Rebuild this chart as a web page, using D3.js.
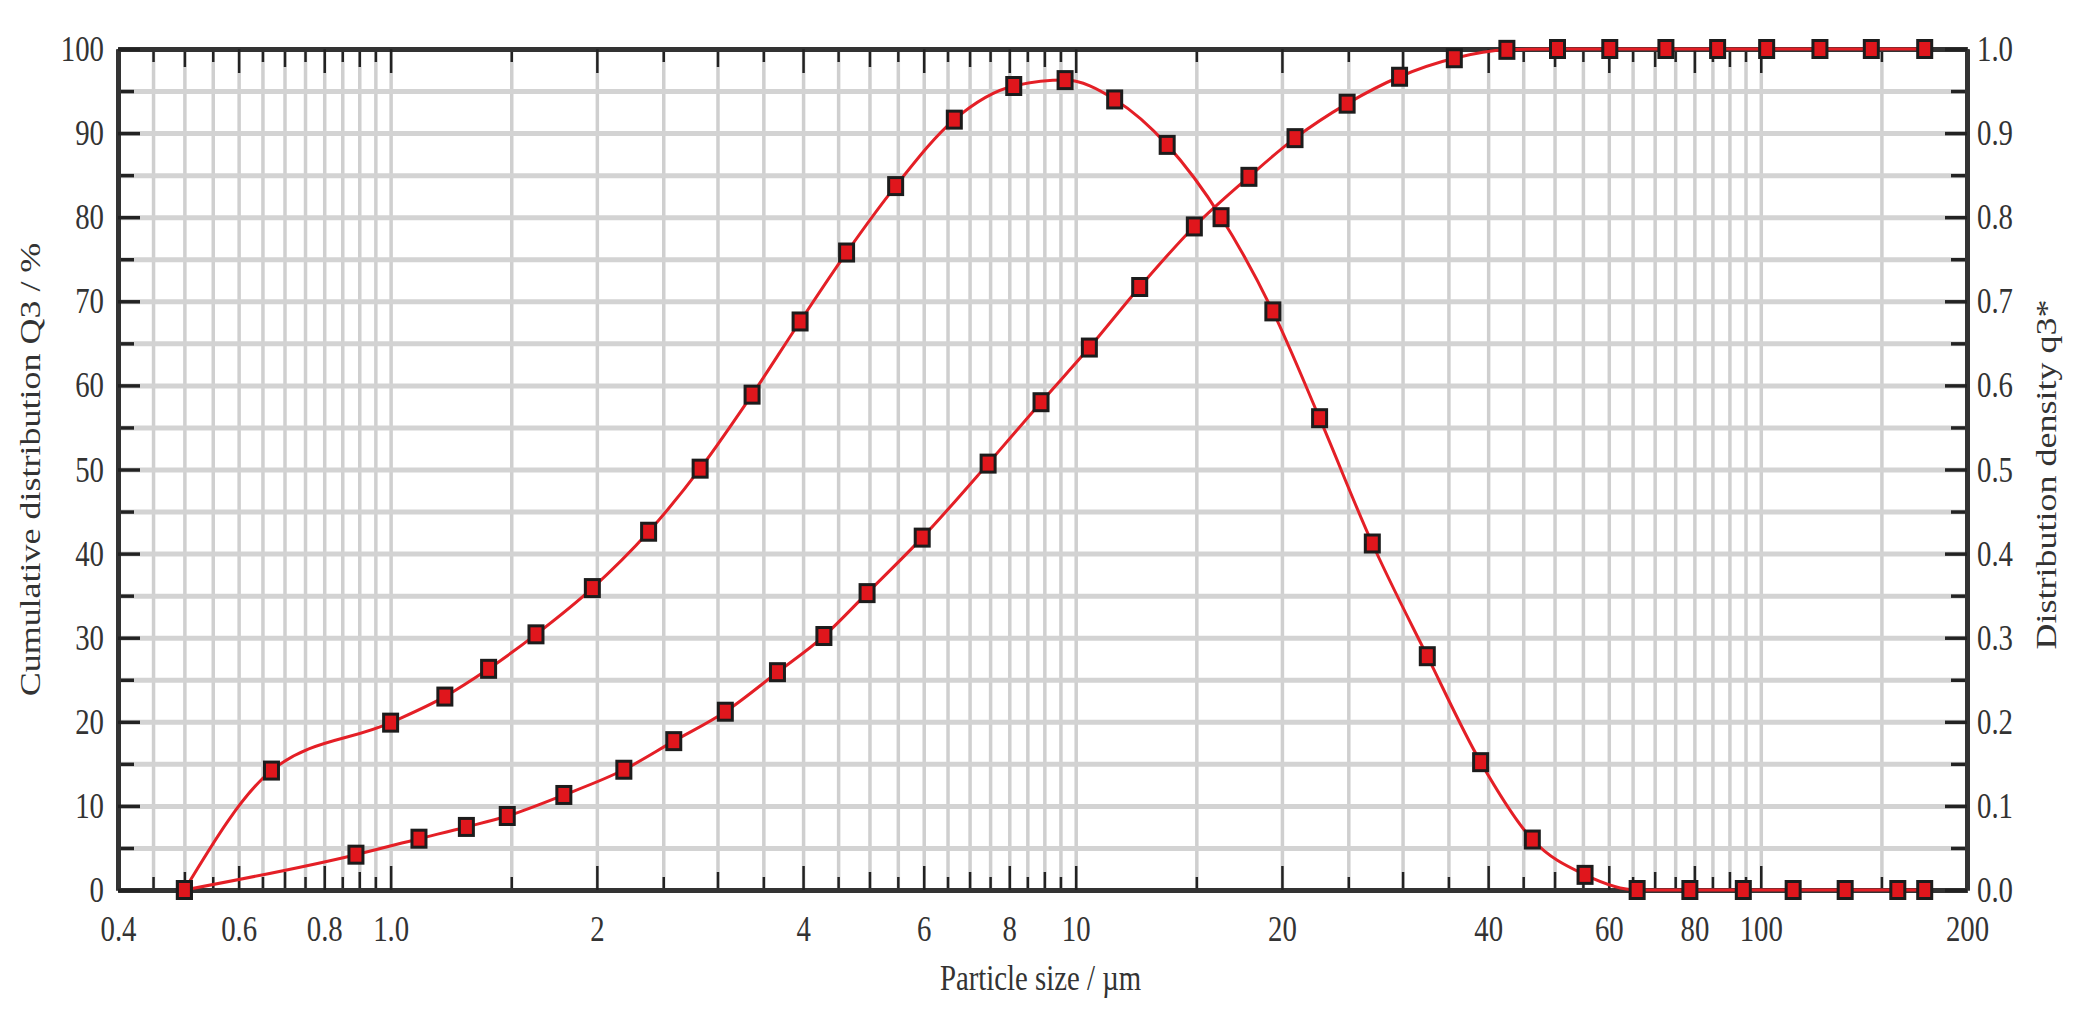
<!DOCTYPE html>
<html>
<head>
<meta charset="utf-8">
<script src="https://cdn.jsdelivr.net/npm/d3@7"></script>
<style>
  body { margin: 0; background: #fff; }
  text { font-family: "Liberation Serif", "DejaVu Serif", serif; fill: #333; }
</style>
</head>
<body>
<div id="wrapper"></div>
<script>
// values: particle size in µm
const cumulativeSizes = [0.5, 0.89, 1.10, 1.29, 1.48, 1.79, 2.19, 2.59, 3.08, 3.67, 4.29, 4.96, 5.97, 7.45, 8.9, 10.47,
    12.4, 14.9, 17.9, 20.9, 24.9, 29.7, 35.7, 42.6, 50.5, 60.2, 72.7, 86.5, 102, 122, 145, 173.5]
const cumulativeQ3 = [0, 4.2, 6.1, 7.5, 8.8, 11.3, 14.3, 17.7, 21.2, 25.9, 30.2, 35.3, 41.9, 50.7, 58.0, 64.5,
    71.7, 78.9, 84.8, 89.4, 93.5, 96.7, 98.9, 99.9, 100, 100, 100, 100, 100, 100, 100, 100]

const densitySizes = [0.5, 0.67, 1.0, 1.2, 1.39, 1.63, 1.97, 2.38, 2.83, 3.37, 3.96, 4.63, 5.46, 6.65, 8.12, 9.65,
    11.4, 13.6, 16.3, 19.4, 22.7, 27.1, 32.6, 39.0, 46.4, 55.4, 66.0, 78.8, 94.3, 111.5, 132.8, 158.5, 173.5]
const densityQ3 = [0, 0.142, 0.199, 0.230, 0.263, 0.304, 0.359, 0.426, 0.501, 0.589, 0.676, 0.758, 0.837, 0.916, 0.956, 0.963,
    0.940, 0.886, 0.800, 0.688, 0.561, 0.412, 0.278, 0.152, 0.060, 0.018, 0, 0, 0, 0, 0, 0, 0]

// x axis ticks
const sizeTicks = [0.4, 0.6, 0.8, 1.0, 2, 4, 6, 8, 10, 20, 40, 60, 80, 100, 200]
const sizeTickLabels = ['0.4', '0.6', '0.8', '1.0', '2', '4', '6', '8', '10', '20', '40', '60', '80', '100', '200']
const sizeMidTicks = [0.5, 0.7, 0.9, 3, 5, 7, 9, 30, 50, 70, 90]
const sizeMinorTicks = [0.45, 0.55, 0.65, 0.75, 0.85, 0.95, 1.5, 2.5, 3.5, 4.5, 5.5, 6.5, 7.5, 8.5, 9.5,
    15, 25, 35, 45, 55, 65, 75, 85, 95, 150]
const sizeGrid = [0.45, 0.5, 0.55, 0.6, 0.65, 0.7, 0.75, 0.8, 0.85, 0.9, 0.95, 1,
    1.5, 2, 2.5, 3, 3.5, 4, 4.5, 5, 5.5, 6, 6.5, 7, 7.5, 8, 8.5, 9, 9.5, 10,
    15, 20, 25, 30, 35, 40, 45, 50, 55, 60, 65, 70, 75, 80, 85, 90, 95, 100, 150]

// y axes ticks
const q3Ticks = [0, 10, 20, 30, 40, 50, 60, 70, 80, 90, 100]
const q3MinorTicks = [5, 15, 25, 35, 45, 55, 65, 75, 85, 95]
const q3Grid = [5, 10, 15, 20, 25, 30, 35, 40, 45, 50, 55, 60, 65, 70, 75, 80, 85, 90, 95]
const densityTicks = [0, 0.1, 0.2, 0.3, 0.4, 0.5, 0.6, 0.7, 0.8, 0.9, 1.0]
const densityTickLabels = ['0.0', '0.1', '0.2', '0.3', '0.4', '0.5', '0.6', '0.7', '0.8', '0.9', '1.0']
const densityMinorTicks = [0.05, 0.15, 0.25, 0.35, 0.45, 0.55, 0.65, 0.75, 0.85, 0.95]

function drawChart() {

    // 1. dimensions
    let dimensions = {
        width: 2084,
        height: 1020,
        margin: { top: 49, right: 117, bottom: 130, left: 118 }
    }
    dimensions.boundedWidth = dimensions.width - dimensions.margin.left - dimensions.margin.right
    dimensions.boundedHeight = dimensions.height - dimensions.margin.top - dimensions.margin.bottom

    const squeezeX = 0.8   // the original lettering is narrow
    const fontSize = 36

    // 2. canvas
    const wrapper = d3.select('#wrapper')
        .append('svg')
            .attr('width', dimensions.width)
            .attr('height', dimensions.height)

    const bounds = wrapper.append('g')
        .attr('transform', `translate(${dimensions.margin.left},${dimensions.margin.top})`)

    // 3. scales
    const xScale = d3.scaleLog()
        .domain([0.4, 200])
        .range([0, dimensions.boundedWidth])
    const yScale = d3.scaleLinear()
        .domain([0, 100])
        .range([dimensions.boundedHeight, 0])
    const yDensityScale = d3.scaleLinear()
        .domain([0, 1])
        .range([dimensions.boundedHeight, 0])

    // 4. grid
    bounds.append('g')
        .attr('class', 'grid-x')
        .attr('transform', `translate(0,${dimensions.boundedHeight})`)
        .call(d3.axisBottom(xScale).tickValues(sizeGrid).tickSize(-dimensions.boundedHeight).tickFormat(''))
        .call(g => g.select('.domain').remove())
        .selectAll('line')
            .attr('stroke', '#cfcfcf')
            .attr('stroke-width', 3.5)

    bounds.append('g')
        .attr('class', 'grid-y')
        .call(d3.axisLeft(yScale).tickValues(q3Grid).tickSize(-dimensions.boundedWidth).tickFormat(''))
        .call(g => g.select('.domain').remove())
        .selectAll('line')
            .attr('stroke', '#d3d3d3')
            .attr('stroke-width', 5)

    // 5. axes
    const axisColor = '#333'

    function styleTicks(g, width) {
        g.selectAll('.tick line').attr('stroke', '#222').attr('stroke-width', width)
        g.select('.domain').attr('stroke', axisColor).attr('stroke-width', 5)
    }

    function squeeze(g) {
        g.selectAll('text').each(function () {
            const t = d3.select(this)
            const x = +t.attr('x') || 0
            t.attr('x', x / squeezeX)
                .attr('transform', `scale(${squeezeX},1)`)
                .attr('fill', '#333')
                .style('font-size', fontSize + 'px')
                .style('font-family', '"Liberation Serif", serif')
        })
    }

    // bottom axis: three tick lengths, labels on the long ones
    const bottom = bounds.append('g')
        .attr('transform', `translate(0,${dimensions.boundedHeight})`)
    bottom.append('g')
        .call(d3.axisBottom(xScale).tickValues(sizeMinorTicks).tickSizeInner(-13).tickSizeOuter(0).tickFormat(''))
        .call(g => styleTicks(g, 2.5))
    bottom.append('g')
        .call(d3.axisBottom(xScale).tickValues(sizeMidTicks).tickSizeInner(-18).tickSizeOuter(0).tickFormat(''))
        .call(g => styleTicks(g, 2.5))
    bottom.append('g')
        .call(d3.axisBottom(xScale)
            .tickValues(sizeTicks)
            .tickSizeInner(-24)
            .tickSizeOuter(0)
            .tickPadding(25)
            .tickFormat((d, i) => sizeTickLabels[i]))
        .call(g => styleTicks(g, 2.5))
        .call(squeeze)

    // top axis: same ticks, no labels
    const top = bounds.append('g')
    top.append('g')
        .call(d3.axisTop(xScale).tickValues(sizeMinorTicks).tickSizeInner(-13).tickSizeOuter(0).tickFormat(''))
        .call(g => styleTicks(g, 2.5))
    top.append('g')
        .call(d3.axisTop(xScale).tickValues(sizeMidTicks).tickSizeInner(-18).tickSizeOuter(0).tickFormat(''))
        .call(g => styleTicks(g, 2.5))
    top.append('g')
        .call(d3.axisTop(xScale).tickValues(sizeTicks).tickSizeInner(-24).tickSizeOuter(0).tickFormat(''))
        .call(g => styleTicks(g, 2.5))

    // left axis (Q3 / %)
    bounds.append('g')
        .call(d3.axisLeft(yScale).tickValues(q3MinorTicks).tickSizeInner(-16).tickSizeOuter(0).tickFormat(''))
        .call(g => styleTicks(g, 3.5))
    bounds.append('g')
        .call(d3.axisLeft(yScale)
            .tickValues(q3Ticks)
            .tickSizeInner(-22)
            .tickSizeOuter(0)
            .tickPadding(14)
            .tickFormat(d3.format('d')))
        .call(g => styleTicks(g, 3.5))
        .call(squeeze)

    // right axis (q3*)
    const right = bounds.append('g')
        .attr('transform', `translate(${dimensions.boundedWidth},0)`)
    right.append('g')
        .call(d3.axisRight(yDensityScale).tickValues(densityMinorTicks).tickSizeInner(-16).tickSizeOuter(0).tickFormat(''))
        .call(g => styleTicks(g, 3.5))
    right.append('g')
        .call(d3.axisRight(yDensityScale)
            .tickValues(densityTicks)
            .tickSizeInner(-22)
            .tickSizeOuter(0)
            .tickPadding(10)
            .tickFormat((d, i) => densityTickLabels[i]))
        .call(g => styleTicks(g, 3.5))
        .call(squeeze)

    // axis titles
    bounds.append('text')
        .attr('transform', `translate(${-88},${dimensions.boundedHeight / 2}) scale(${squeezeX},1) rotate(-90)`)
        .attr('dy', '0.35em')
        .style('text-anchor', 'middle')
        .style('font-size', fontSize + 'px')
        .text('Cumulative distribution Q3 / %')

    bounds.append('text')
        .attr('transform', `translate(${dimensions.boundedWidth + 79},${dimensions.boundedHeight / 2 + 5}) scale(${squeezeX},1) rotate(-90)`)
        .attr('dy', '0.35em')
        .style('text-anchor', 'middle')
        .style('font-size', fontSize + 'px')
        .text('Distribution density q3*')

    bounds.append('text')
        .attr('transform', `translate(${dimensions.boundedWidth / 2 - 2},${dimensions.boundedHeight + 100}) scale(${squeezeX},1)`)
        .style('text-anchor', 'middle')
        .style('font-size', fontSize + 'px')
        .text('Particle size / µm')

    // 6. data
    const cumulative = cumulativeSizes.map((s, i) => ({ size: s, value: cumulativeQ3[i] }))
    const density = densitySizes.map((s, i) => ({ size: s, value: densityQ3[i] }))

    const cumulativeLine = d3.line()
        .x(d => xScale(d.size))
        .y(d => yScale(d.value))
        .curve(d3.curveMonotoneX)
    const densityLine = d3.line()
        .x(d => xScale(d.size))
        .y(d => yDensityScale(d.value))
        .curve(d3.curveMonotoneX)

    const lineColor = '#e41f26'

    bounds.append('path')
        .datum(cumulative)
        .attr('d', cumulativeLine)
        .attr('fill', 'none')
        .attr('stroke', lineColor)
        .attr('stroke-width', 3)

    bounds.append('path')
        .datum(density)
        .attr('d', densityLine)
        .attr('fill', 'none')
        .attr('stroke', lineColor)
        .attr('stroke-width', 3)

    const markerW = 14
    const markerH = 17

    bounds.selectAll('.cumulative-dot')
        .data(cumulative)
        .enter().append('rect')
            .attr('class', 'cumulative-dot')
            .attr('x', d => xScale(d.size) - markerW / 2)
            .attr('y', d => yScale(d.value) - markerH / 2)
            .attr('width', markerW)
            .attr('height', markerH)
            .attr('fill', '#e0161c')
            .attr('stroke', '#1c1c1c')
            .attr('stroke-width', 3)

    bounds.selectAll('.density-dot')
        .data(density)
        .enter().append('rect')
            .attr('class', 'density-dot')
            .attr('x', d => xScale(d.size) - markerW / 2)
            .attr('y', d => yDensityScale(d.value) - markerH / 2)
            .attr('width', markerW)
            .attr('height', markerH)
            .attr('fill', '#e0161c')
            .attr('stroke', '#1c1c1c')
            .attr('stroke-width', 3)
}

drawChart()
</script>
</body>
</html>
